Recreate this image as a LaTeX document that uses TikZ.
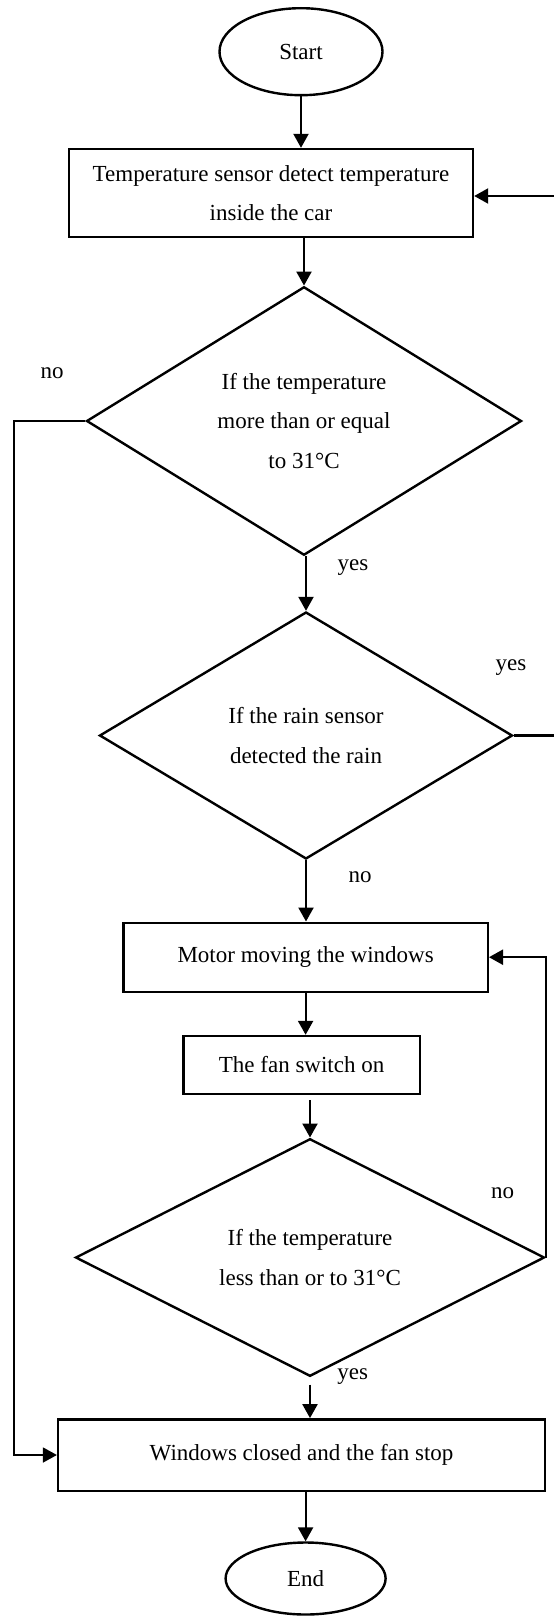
\documentclass[tikz,border=0pt]{standalone}
\usepackage{fontspec}
\setmainfont{Liberation Serif}
\usetikzlibrary{shapes.geometric,arrows.meta}
\begin{document}
\begin{tikzpicture}[x=0.5pt,y=-0.5pt,
  every node/.style={font={\fontsize{11.5}{19.75}\selectfont},text=black},
  shp/.style={draw=black,line width=1.2pt,align=center,inner sep=0pt},
  termbox/.style={shp,ellipse},
  procbox/.style={shp,rectangle},
  decbox/.style={shp,diamond},
  arr/.style={line width=1.1pt,-{Triangle[length=7pt,width=7.5pt]}},
  lbl/.style={inner sep=0pt}]
\useasboundingbox (0,0) rectangle (553,1616);
% nodes
\node[termbox,minimum width=81.5pt,minimum height=43.5pt] (start) at (301,51.7) {Start};
\node[procbox,minimum width=202pt,minimum height=44pt] (sensor) at (271,193) {Temperature sensor detect temperature\\inside the car};
\node[decbox,minimum width=217.5pt,minimum height=126pt] (d1) at (304,421) {If the temperature\\more than or equal\\to 31°C};
\node[decbox,minimum width=206.5pt,minimum height=123.5pt] (d2) at (306,735.5) {If the rain sensor\\detected the rain};
\node[procbox,minimum width=182.2pt,minimum height=34.5pt] (motor) at (305.6,957.2) {Motor moving the windows};
\node[procbox,minimum width=118.2pt,minimum height=29pt] (fan) at (301.6,1065) {The fan switch on};
\node[decbox,minimum width=234.5pt,minimum height=92.5pt] (d3) at (310,1257.5) {If the temperature\\less than or to 31°C};
\node[procbox,minimum width=243.5pt,minimum height=35.7pt] (final) at (301.6,1455) {Windows closed and the fan stop};
\node[termbox,minimum width=80pt,minimum height=36pt] (end) at (305.6,1578.5) {End};
% labels
\node[lbl] (no1) at (52,373) {no};
\node[lbl] (yes1) at (353,568) {yes};
\node[lbl] (yes2) at (511,668) {yes};
\node[lbl] (no2) at (360,877) {no};
\node[lbl] (no3) at (502.6,1192.7) {no};
\node[lbl] (yes3) at (352.7,1376.7) {yes};
% helper coordinates
\coordinate (rt) at (556,196);
\coordinate (lx) at (14,1455);
% connectors
\draw[arr] (start.south) -- (start.south |- sensor.north);
\draw[arr] (d1.north |- sensor.south) -- (d1.north);
\draw[arr] (d2.north |- d1.south) -- (d2.north);
\draw[arr] (d2.east) -| (rt) -- (rt -| sensor.east);
\draw[arr] (d2.south) -- (d2.south |- motor.north);
\draw[arr] (motor.south) -- (motor.south |- fan.north);
\draw[arr,shorten <=2.5pt] (d3.north |- fan.south) -- (d3.north);
\draw[arr] (d3.east) |- (motor.east);
\draw[arr,shorten <=3.5pt] (d3.south) -- (d3.south |- final.north);
\draw[arr,line width=0.8pt] (d1.west) -- (d1.west -| lx) -- (lx) -- (final.west);
\draw[arr] (end.north |- final.south) -- (end.north);
\end{tikzpicture}
\end{document}
